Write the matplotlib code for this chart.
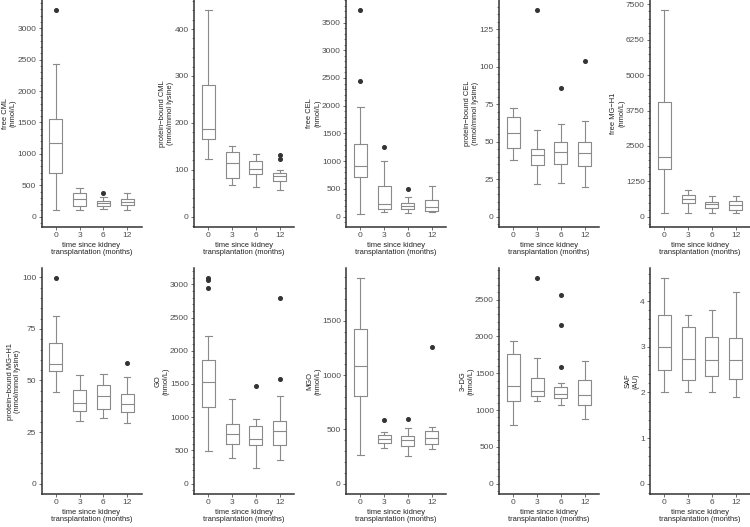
import matplotlib
matplotlib.use("Agg")
import matplotlib.pyplot as plt
from matplotlib.ticker import MultipleLocator, AutoMinorLocator

plt.rcParams['font.family'] = ['Liberation Sans', 'DejaVu Sans']

groups = ["0", "3", "6", "12"]
xlab = "time since kidney\ntransplantation (months)"

ylabels = ["free CML\n(nmol/L)", "protein\u2212bound CML\n(nmol/mmol lysine)",
           "free CEL\n(nmol/L)", "protein\u2212bound CEL\n(nmol/mmol lysine)",
           "free MG\u2212H1\n(nmol/L)", "protein\u2212bound MG\u2212H1\n(nmol/mmol lysine)",
           "GO\n(nmol/L)", "MGO\n(nmol/L)", "3\u2212DG\n(nmol/L)", "SAF\n(AU)"]
major_step = [500, 100, 500, 25, 1250, 25, 500, 500, 500, 1]

# per panel, per group: lower whisker, Q1, median, Q3, upper whisker
lo = [[112, 112, 128, 112], [124, 68, 64, 57], [54, 90, 70, 90], [38, 22, 22.5, 19.5],
      [140, 140, 140, 140], [44.4, 30.5, 32, 29.5], [490, 385, 230, 355],
      [260, 325, 255, 315], [800, 1130, 1075, 885], [2.0, 2.0, 2.0, 1.9]]
q1 = [[702, 175, 175, 191], [166, 83, 91, 77], [708, 145, 130, 110], [45.5, 34.5, 35, 33.5],
      [1700, 500, 305, 235], [54.7, 35.2, 36.3, 34.8], [1160, 605, 575, 575],
      [810, 375, 345, 370], [1130, 1185, 1170, 1075], [2.5, 2.27, 2.35, 2.3]]
med = [[1180, 287, 223, 239], [188, 115, 102, 87], [907, 236, 190, 180], [55.5, 41, 43, 42.5],
       [2120, 640, 435, 425], [58, 39, 42.7, 38.7], [1525, 745, 680, 790],
       [1080, 415, 405, 420], [1332, 1265, 1225, 1200], [3.0, 2.73, 2.7, 2.7]]
q3 = [[1547, 383, 255, 287], [281, 137, 119, 94], [1307, 545, 255, 300], [66.5, 45, 49.5, 49.5],
      [4050, 770, 510, 555], [68, 45.5, 48, 43.5], [1865, 900, 865, 940],
      [1422, 445, 440, 485], [1760, 1440, 1320, 1405], [3.7, 3.43, 3.22, 3.2]]
hi = [[2424, 462, 319, 383], [440, 151, 134, 100], [1978, 1010, 350, 560], [72.5, 57.5, 61.5, 64],
      [7290, 950, 720, 720], [81, 52.6, 53, 51.8], [2215, 1275, 970, 1315],
      [1890, 475, 510, 525], [1940, 1710, 1370, 1660], [4.5, 3.7, 3.8, 4.2]]
outliers = [[[3285], [], [383], []],
            [[], [], [], [132, 122]],
            [[3720, 2450], [1250], [490], []],
            [[], [137.5], [86], [103.5]],
            [[], [], [], []],
            [[99.5], [], [], [58.7]],
            [[3090, 3060, 2950], [], [1470], [2800, 1575]],
            [[], [590], [600], [1255]],
            [[], [2790], [2560, 2150, 1580], []],
            [[], [], [], []]]

fig = plt.figure(figsize=(7.5, 5.27), dpi=100)
W, H = 750, 527
lefts = [41.5, 194, 346, 499, 650]
aw = 100
rows = [(0, 227), (268, 494)]

box_col = "#8a8a8a"
for p in range(10):
    r, c = divmod(p, 5)
    top, bot = rows[r]
    ax = fig.add_axes([lefts[c] / W, 1 - bot / H, aw / W, (bot - top) / H])
    stats = []
    for g in range(4):
        stats.append(dict(whislo=lo[p][g], q1=q1[p][g], med=med[p][g], q3=q3[p][g],
                          whishi=hi[p][g], fliers=outliers[p][g]))
    ax.bxp(stats, positions=[1, 2, 3, 4], widths=0.55, capwidths=0.27,
           boxprops=dict(color=box_col, linewidth=0.8),
           whiskerprops=dict(color=box_col, linewidth=0.8),
           capprops=dict(color=box_col, linewidth=0.8),
           medianprops=dict(color=box_col, linewidth=0.8),
           flierprops=dict(marker='o', markersize=2.6, markerfacecolor='#333333',
                           markeredgecolor='#333333'))
    vmax = max(max(hi[p]), max([max(o) if o else 0 for o in outliers[p]]))
    ax.set_ylim(-0.05 * vmax, 1.05 * vmax)
    ax.set_xlim(0.4, 4.6)
    ax.set_xticks([1, 2, 3, 4])
    ax.set_xticklabels(groups)
    ax.yaxis.set_major_locator(MultipleLocator(major_step[p]))
    ax.yaxis.set_minor_locator(AutoMinorLocator(5))
    for s in ["top", "right"]:
        ax.spines[s].set_visible(False)
    for s in ["left", "bottom"]:
        ax.spines[s].set_color("#333333")
        ax.spines[s].set_linewidth(1.1)
    ax.tick_params(axis='both', which='major', labelsize=6, length=2.2, width=0.6,
                   colors='#555555', labelcolor='#4d4d4d', pad=1.5)
    ax.tick_params(axis='y', which='minor', length=1.4, width=0.5, colors='#555555')
    ax.set_ylabel(ylabels[p], fontsize=5.4, color='#222222', labelpad=0.5, linespacing=1.15)
    ax.set_xlabel(xlab, fontsize=5.4, color='#222222', labelpad=2, linespacing=1.0)

fig.savefig("out.png", dpi=100)
